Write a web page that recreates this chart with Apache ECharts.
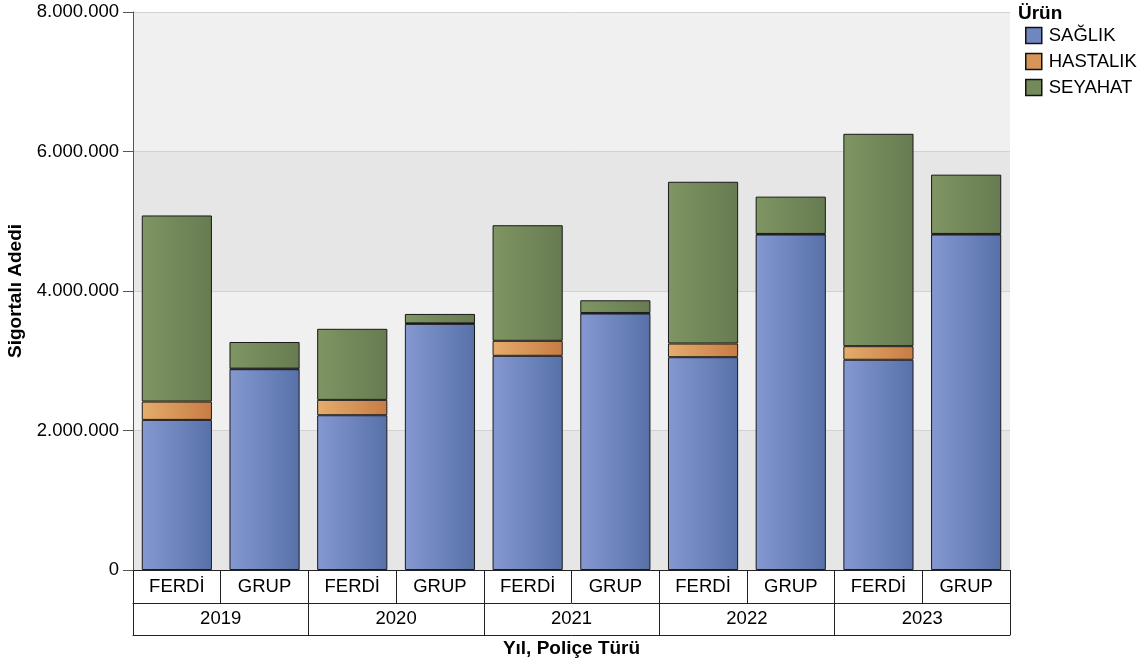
<!DOCTYPE html>
<html>
<head>
<meta charset="utf-8">
<script src="https://cdn.jsdelivr.net/npm/echarts@6/dist/echarts.min.js"></script>
<style>
html,body{margin:0;padding:0;background:#fff;}
#c{width:1147px;height:667px;}
</style>
</head>
<body>
<div id="c"></div>
<script>
const years = ['2019', '2020', '2021', '2022', '2023'];
const policyTypes = ['FERDİ', 'GRUP'];
const productNames = ['SAĞLIK', 'HASTALIK', 'SEYAHAT'];
const saglik   = [2152000, 2879000, 2219000, 3529000, 3071000, 3677000, 3051000, 4810000, 3014000, 4810000];
const hastalik = [263000, 8000, 220000, 8000, 215000, 8000, 196000, 8000, 195000, 8000];
const seyahat  = [2668000, 382000, 1019000, 134000, 1657000, 182000, 2319000, 535000, 3045000, 850000];
const yTicks = [0, 2000000, 4000000, 6000000, 8000000];

const categories = [];
years.forEach(y => policyTypes.forEach(p => categories.push(p)));

const FONT = '"Liberation Sans", Arial, sans-serif';
const FS = 18.5;
const FSB = 19;
function grad(a, b) {
  return new echarts.graphic.LinearGradient(0, 0, 1, 0, [
    {offset: 0, color: a}, {offset: 1, color: b}
  ]);
}
const colors = [grad('#8598d1', '#5771a8'), grad('#e5ad6c', '#c77c45'), grad('#7f9562', '#677b51')];
const legendColors = ['#6f86c0', '#d8955a', '#738a5a'];
const seriesData = [saglik, hastalik, seyahat];

const chart = echarts.init(document.getElementById('c'));
chart.setOption({
  animation: false,
  textStyle: {fontFamily: FONT},
  title: {
    text: 'Ürün', left: 1013, top: -1,
    textStyle: {fontFamily: FONT, fontSize: FSB, fontWeight: 'bold', color: '#000'}
  },
  legend: {
    orient: 'vertical', left: 1020, top: 21, itemGap: 7,
    itemWidth: 16, itemHeight: 16, icon: 'rect',
    textStyle: {fontFamily: FONT, fontSize: FS, color: '#000', padding: [0, 0, 0, 2]},
    data: productNames.map((n, i) => ({name: n, itemStyle: {color: legendColors[i], borderColor: '#111', borderWidth: 1.5}}))
  },
  grid: {left: 133, right: 137, top: 12, bottom: 97, outerBoundsMode: 'none', containLabel: false},
  xAxis: [
    {
      type: 'category', data: categories, position: 'bottom',
      axisLine: {show: true, lineStyle: {color: '#222', width: 1}},
      axisTick: {show: true, length: 33, interval: 0, lineStyle: {color: '#222'}},
      axisLabel: {interval: 0, margin: 7, fontSize: FS, color: '#000', fontFamily: FONT},
      name: 'Yıl, Poliçe Türü', nameLocation: 'middle', nameGap: 69,
      nameTextStyle: {fontFamily: FONT, fontSize: FSB, fontWeight: 'bold', color: '#000'}
    },
    {
      type: 'category', data: years, position: 'bottom', offset: 33,
      axisLine: {show: true, lineStyle: {color: '#222', width: 1}},
      axisTick: {show: true, length: 32, interval: 0, lineStyle: {color: '#222'}},
      axisLabel: {interval: 0, margin: 6, fontSize: FS, color: '#000', fontFamily: FONT}
    },
    {
      type: 'category', data: years, position: 'bottom', offset: 65,
      axisLine: {show: true, lineStyle: {color: '#222', width: 1}},
      axisTick: {show: false}, axisLabel: {show: false}
    }
  ],
  yAxis: {
    type: 'value', min: yTicks[0], max: yTicks[yTicks.length - 1], interval: 2000000,
    axisLine: {show: true, lineStyle: {color: '#555'}},
    axisTick: {show: true, length: 10, lineStyle: {color: '#555'}},
    axisLabel: {
      fontSize: FS, color: '#000', margin: 14, fontFamily: FONT, padding: [3, 0, 0, 0],
      formatter: v => String(v).replace(/\B(?=(\d{3})+(?!\d))/g, '.')
    },
    splitLine: {show: true, lineStyle: {color: '#d2d2d2'}},
    splitArea: {show: true, areaStyle: {color: ['#e6e6e6', '#f0f0f0']}},
    name: 'Sigortalı Adedi', nameLocation: 'middle', nameGap: 108,
    nameTextStyle: {fontFamily: FONT, fontSize: FSB, fontWeight: 'bold', color: '#000'}
  },
  series: productNames.map((n, i) => ({
    name: n, type: 'bar', stack: 'total', xAxisIndex: 0,
    barCategoryGap: '20%',
    data: seriesData[i],
    itemStyle: {color: colors[i], borderColor: '#1a1a1a', borderWidth: 1}
  }))
});
</script>
</body>
</html>
